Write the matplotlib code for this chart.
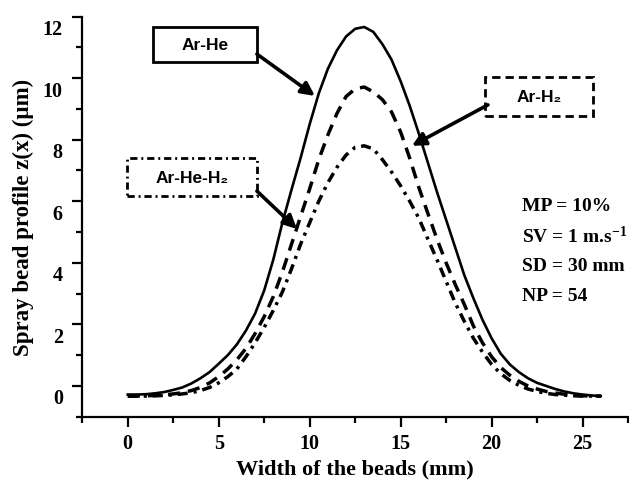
import matplotlib.pyplot as plt
import matplotlib.transforms as mtransforms
from matplotlib.patches import Rectangle
from matplotlib.ticker import MultipleLocator

# Bead profiles (x in mm, z in um), 0.5 mm step
width = [i * 0.5 for i in range(53)]
ar_he = [-0.28, -0.28, -0.27, -0.24, -0.2, -0.13, -0.05, 0.08, 0.25, 0.45,
         0.72, 1.0, 1.35, 1.8, 2.35, 3.1, 4.1, 5.3, 6.37, 7.4,
         8.5, 9.5, 10.3, 10.9, 11.35, 11.6, 11.66, 11.5, 11.1, 10.6,
         9.9, 9.1, 8.2, 7.25, 6.3, 5.4, 4.5, 3.6, 2.85, 2.15,
         1.55, 1.05, 0.7, 0.45, 0.25, 0.1, 0.0, -0.1, -0.18, -0.24,
         -0.28, -0.31, -0.33]
ar_h2 = [-0.33, -0.33, -0.32, -0.31, -0.29, -0.26, -0.22, -0.15, -0.05, 0.1,
         0.3, 0.55, 0.85, 1.22, 1.7, 2.25, 2.9, 3.7, 4.6, 5.5,
         6.4, 7.35, 8.15, 8.85, 9.4, 9.65, 9.71, 9.55, 9.3, 8.9,
         8.25, 7.4, 6.45, 5.6, 4.77, 4.0, 3.3, 2.65, 1.95, 1.4,
         0.95, 0.6, 0.35, 0.15, 0.0, -0.1, -0.18, -0.23, -0.27, -0.3,
         -0.32, -0.33, -0.33]
ar_he_h2 = [-0.33, -0.33, -0.33, -0.32, -0.31, -0.29, -0.26, -0.22, -0.15, -0.05,
            0.1, 0.3, 0.55, 0.95, 1.4, 1.9, 2.45, 3.05, 3.8, 4.6,
            5.3, 6.0, 6.6, 7.1, 7.5, 7.75, 7.8, 7.7, 7.35, 6.95,
            6.5, 6.0, 5.45, 4.77, 4.1, 3.4, 2.7, 2.1, 1.55, 1.1,
            0.7, 0.4, 0.18, 0.02, -0.1, -0.18, -0.24, -0.28, -0.3, -0.32,
            -0.33, -0.33, -0.33]

conditions = ['MP = 10%', 'SV = 1 m.s$^{-1}$', 'SD = 30 mm', 'NP = 54']

plt.rcParams['mathtext.fontset'] = 'custom'
plt.rcParams['mathtext.rm'] = 'Liberation Serif:bold'
plt.rcParams['mathtext.default'] = 'rm'

serif = 'Liberation Serif'
sans = ['Liberation Sans', 'DejaVu Sans']

fig = plt.figure(figsize=(6.29, 4.81), dpi=100)
ax = fig.add_axes([0.1308, 0.1316, 0.8676, 0.832])

dash = (0, (3.5, 2.3))
dashdot = (0, (2.9, 1.7, 0.9, 1.7))
ax.plot(width, ar_he, color='black', lw=1.9)
ax.plot(width, ar_h2, color='black', lw=2.5, linestyle=dash)
ax.plot(width, ar_he_h2, color='black', lw=2.5, linestyle=dashdot)

ax.set_xlim(-2.5, 27.5)
ax.set_ylim(-1, 12)
ax.xaxis.set_major_locator(MultipleLocator(5))
ax.xaxis.set_minor_locator(MultipleLocator(2.5))
ax.yaxis.set_major_locator(MultipleLocator(2))
ax.yaxis.set_minor_locator(MultipleLocator(1))
ax.set_yticks(range(0, 13, 2))

for s in ['top', 'right']:
    ax.spines[s].set_visible(False)
for s in ['left', 'bottom']:
    ax.spines[s].set_linewidth(1.6)

ax.tick_params(which='major', direction='out', length=7, width=1.6, pad=5)
ax.tick_params(which='minor', direction='out', length=4, width=1.6)
ax.tick_params(axis='y', which='major', pad=7)
for lab in ax.get_xticklabels() + ax.get_yticklabels():
    lab.set_fontfamily(serif)
    lab.set_fontweight('bold')
    lab.set_fontsize(14.5)
# y labels sit a little below their ticks in the original
off = mtransforms.ScaledTranslation(0, -0.1, fig.dpi_scale_trans)
for lab in ax.get_yticklabels():
    lab.set_transform(lab.get_transform() + off)

ax.set_xlabel('Width of the beads (mm)', family=serif, weight='bold',
              fontsize=16, labelpad=4)
ax.set_ylabel('Spray bead profile z(x) (\u00b5m)', family=serif, weight='bold',
              fontsize=16.5, labelpad=6)

# labelled boxes with arrows
boxes = [
    ('Ar-He', (1.39, 10.53), 5.71, 1.13, 'solid', (7.1, 10.78), (10.29, 9.42)),
    ('Ar-H\u2082', (19.63, 8.77), 5.94, 1.27, (0, (3.0, 1.8)), (19.8, 9.13), (15.62, 7.8)),
    ('Ar-He-H\u2082', (-0.04, 6.17), 7.14, 1.23, (0, (2.6, 1.4, 0.7, 1.4)), (7.1, 6.33), (9.3, 5.1)),
]
for name, xy, w, h, ls, start, tip in boxes:
    ax.add_patch(Rectangle(xy, w, h, fill=False, lw=2.0, linestyle=ls,
                           edgecolor='black', clip_on=False))
    ax.text(xy[0] + w / 2, xy[1] + h / 2, name, family=sans, weight='bold',
            fontsize=12.5, ha='center', va='center')
    ax.annotate('', xy=tip, xytext=start,
                arrowprops=dict(arrowstyle='-|>', lw=2.6, color='black',
                                mutation_scale=20, shrinkA=0, shrinkB=0))

for i, t in enumerate(conditions):
    ax.text(21.7, 5.85 - i * 0.97, t, family=serif, weight='bold', fontsize=14,
            ha='left', va='center')

fig.savefig('out.png', dpi=100)
